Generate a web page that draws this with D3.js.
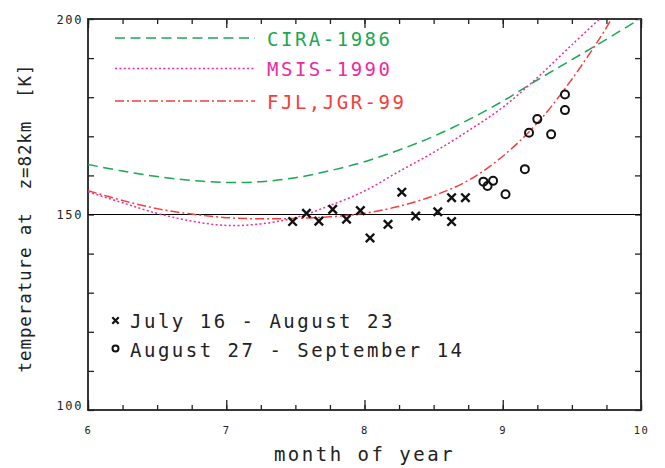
<!DOCTYPE html>
<html>
<head>
<meta charset="utf-8">
<script src="https://cdn.jsdelivr.net/npm/d3@7"></script>
<style>
body { margin: 0; background: #fff; }
text { font-family: "DejaVu Sans Mono", monospace; }
</style>
</head>
<body>
<div id="chart"></div>
<script>
// model curves (month of year -> temperature K)
var cira_months = [6.0, 6.25, 6.5, 6.75, 7.0, 7.25, 7.5, 7.75, 8.0, 8.25, 8.5, 8.75, 9.0, 9.25, 9.5, 9.75, 10.0];
var cira_temps  = [162.8, 161.1, 159.7, 158.7, 158.2, 158.4, 159.4, 161.2, 163.5, 166.5, 170.0, 174.2, 179.0, 184.4, 189.6, 194.8, 200.2];

var msis_months = [6.0, 6.25, 6.5, 6.75, 7.0, 7.25, 7.5, 7.75, 8.0, 8.25, 8.5, 8.75, 9.0, 9.25, 9.5, 9.7];
var msis_temps  = [155.8, 153.0, 150.3, 148.3, 147.2, 147.6, 149.2, 152.3, 156.0, 161.0, 165.9, 171.4, 177.4, 185.0, 193.4, 200.0];

var fjl_months = [6.0, 6.25, 6.5, 6.75, 7.0, 7.25, 7.5, 7.75, 8.0, 8.25, 8.5, 8.75, 9.0, 9.25, 9.5, 9.75, 9.8];
var fjl_temps  = [156.1, 153.6, 151.5, 150.1, 149.2, 148.9, 149.0, 149.4, 150.3, 152.1, 154.8, 158.7, 164.9, 173.4, 184.6, 197.8, 201.0];

// measurements
var july_months = [7.48, 7.58, 7.67, 7.77, 7.87, 7.97, 8.04, 8.17, 8.27, 8.37, 8.53, 8.63, 8.63, 8.73];
var july_temps  = [148.2, 150.3, 148.3, 151.3, 148.8, 151.0, 144.0, 147.5, 155.7, 149.6, 150.7, 154.3, 148.2, 154.3];
var aug_months = [8.86, 8.89, 8.93, 9.02, 9.16, 9.19, 9.25, 9.35, 9.45, 9.45];
var aug_temps  = [158.4, 157.3, 158.6, 155.2, 161.6, 170.9, 174.4, 170.5, 176.7, 180.7];

var model_names = ["CIRA-1986", "MSIS-1990", "FJL,JGR-99"];
var data_names = ["July 16 - August 23", "August 27 - September 14"];
var x_major = [6, 7, 8, 9, 10];
var y_labels = [100, 150, 200];

var width = 665, height = 468;
var svg = d3.select("#chart").append("svg")
    .attr("width", width)
    .attr("height", height);

var x = d3.scaleLinear().domain([6, 10]).range([88, 641]);
var y = d3.scaleLinear().domain([100, 200]).range([410, 19]);

var axis_color = "#222";
var colors = ["#1aa852", "#ee2a9e", "#f53d3d"];
var dashes = ["10,5.5", "2,2.4", "9,3,2,3"];

// clip for the curves
svg.append("clipPath").attr("id", "plotclip")
    .append("rect")
    .attr("x", x(6)).attr("y", y(200))
    .attr("width", x(10) - x(6)).attr("height", y(100) - y(200));

// minor/major ticks, bottom & top
var minor_x = d3.range(6, 10.001, 0.25);
svg.append("g").attr("transform", "translate(0," + y(100) + ")")
    .call(d3.axisBottom(x).tickValues(minor_x).tickSize(-5).tickFormat(""));
svg.append("g").attr("transform", "translate(0," + y(100) + ")")
    .call(d3.axisBottom(x).tickValues(x_major).tickSize(-10).tickPadding(17).tickFormat(d3.format("d")))
    .attr("class", "xlab");
svg.append("g").attr("transform", "translate(0," + y(200) + ")")
    .call(d3.axisTop(x).tickValues(minor_x).tickSize(-5).tickFormat(""));
svg.append("g").attr("transform", "translate(0," + y(200) + ")")
    .call(d3.axisTop(x).tickValues(x_major).tickSize(-9).tickFormat(""));

// left & right ticks every 10 K
var minor_y = d3.range(100, 200.001, 10);
svg.append("g").attr("transform", "translate(" + x(6) + ",0)")
    .call(d3.axisLeft(y).tickValues(minor_y).tickSize(-6).tickFormat(""));
svg.append("g").attr("transform", "translate(" + x(10) + ",0)")
    .call(d3.axisRight(y).tickValues(minor_y).tickSize(-6).tickFormat(""));

svg.selectAll(".domain").remove();
svg.selectAll(".tick line").attr("stroke", axis_color).attr("stroke-width", 1.3);
svg.selectAll(".xlab text")
    .attr("font-family", "DejaVu Sans Mono")
    .attr("font-size", 10.5)
    .attr("letter-spacing", 1.5)
    .attr("fill", "#222");

// frame
svg.append("rect")
    .attr("x", x(6)).attr("y", y(200))
    .attr("width", x(10) - x(6)).attr("height", y(100) - y(200))
    .attr("fill", "none").attr("stroke", axis_color).attr("stroke-width", 1.8);

// y labels
svg.selectAll(".ylab").data(y_labels).enter().append("text")
    .attr("class", "ylab")
    .attr("x", x(6) - 5)
    .attr("y", function(d) { return d == 100 ? y(d) : y(d) + 4.5; })
    .attr("text-anchor", "end")
    .attr("font-size", 12)
    .attr("letter-spacing", 1.6)
    .attr("fill", "#222")
    .text(function(d) { return d; });

// 150 K reference line
svg.append("line")
    .attr("x1", x(6)).attr("x2", x(10))
    .attr("y1", y(150)).attr("y2", y(150))
    .attr("stroke", "#000").attr("stroke-width", 1.2);

// model curves
var line = d3.line()
    .x(function(d) { return x(d[0]); })
    .y(function(d) { return y(d[1]); })
    .curve(d3.curveCatmullRom.alpha(0.5));

var curves = [
    d3.zip(cira_months, cira_temps),
    d3.zip(msis_months, msis_temps),
    d3.zip(fjl_months, fjl_temps)
];
svg.append("g").attr("clip-path", "url(#plotclip)")
    .selectAll("path").data(curves).enter().append("path")
    .attr("d", line)
    .attr("fill", "none")
    .attr("stroke", function(d, i) { return colors[i]; })
    .attr("stroke-width", 1.5)
    .attr("stroke-dasharray", function(d, i) { return dashes[i]; });

// markers
function cross(g, cx, cy, s, w) {
    g.append("path")
        .attr("d", "M" + (cx - s) + "," + (cy - s) + "L" + (cx + s) + "," + (cy + s) +
                   "M" + (cx - s) + "," + (cy + s) + "L" + (cx + s) + "," + (cy - s))
        .attr("stroke", "#111").attr("stroke-width", w).attr("fill", "none");
}
var pts = svg.append("g");
d3.zip(july_months, july_temps).forEach(function(d) {
    cross(pts, x(d[0]), y(d[1]), 4.2, 2.4);
});
pts.selectAll("circle").data(d3.zip(aug_months, aug_temps)).enter().append("circle")
    .attr("cx", function(d) { return x(d[0]); })
    .attr("cy", function(d) { return y(d[1]); })
    .attr("r", 4)
    .attr("fill", "none")
    .attr("stroke", "#111")
    .attr("stroke-width", 2);

// legend (models)
var leg_y = [38, 68.5, 101];
model_names.forEach(function(name, i) {
    svg.append("line")
        .attr("x1", 115).attr("x2", 255)
        .attr("y1", leg_y[i]).attr("y2", leg_y[i])
        .attr("stroke", colors[i]).attr("stroke-width", 1.5)
        .attr("stroke-dasharray", dashes[i]);
    svg.append("text")
        .attr("x", 267).attr("y", leg_y[i] + 7.5)
        .attr("font-size", 19)
        .attr("letter-spacing", 2.5)
        .attr("fill", colors[i])
        .text(name);
});

// legend (measurements)
cross(svg, 115.5, 320.5, 3.2, 2.2);
svg.append("circle").attr("cx", 115.5).attr("cy", 348.5).attr("r", 3)
    .attr("fill", "none").attr("stroke", "#111").attr("stroke-width", 2);
data_names.forEach(function(name, i) {
    svg.append("text")
        .attr("x", 130).attr("y", 328 + i * 28.5)
        .attr("font-size", 19)
        .attr("letter-spacing", 2.5)
        .attr("fill", "#222")
        .text(name);
});

// axis titles
svg.append("text")
    .attr("x", (x(6) + x(10)) / 2).attr("y", 461)
    .attr("text-anchor", "middle")
    .attr("font-size", 19)
    .attr("letter-spacing", 2.5)
    .attr("fill", "#222")
    .text("month of year");
svg.append("text")
    .attr("transform", "translate(31," + 218 + ") rotate(-90)")
    .attr("text-anchor", "middle")
    .attr("font-size", 17.5)
    .attr("letter-spacing", 0.9)
    .attr("fill", "#222")
    .style("white-space", "pre")
    .text("temperature at  z=82km  [K]");
</script>
</body>
</html>
